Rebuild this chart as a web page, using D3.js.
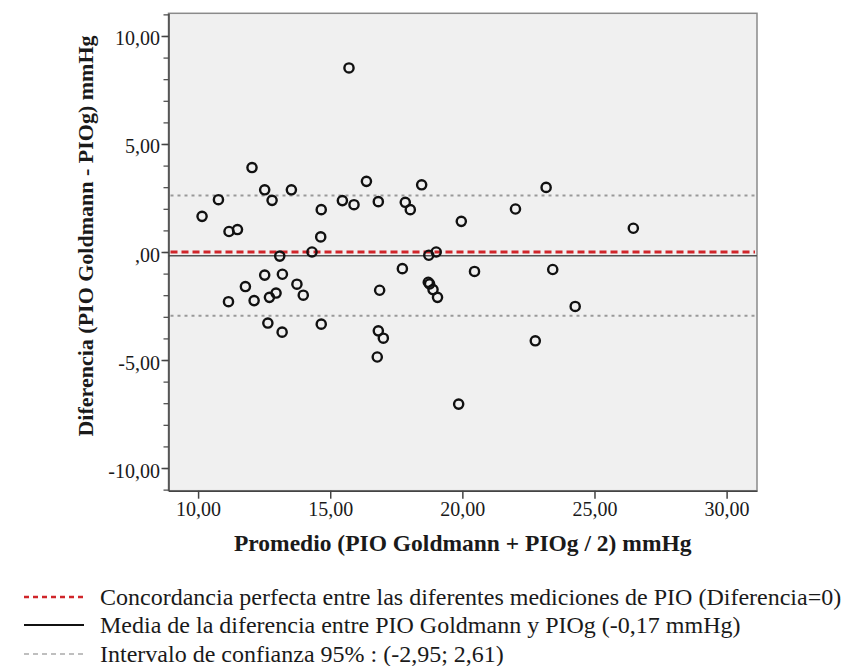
<!DOCTYPE html>
<html><head><meta charset="utf-8">
<script src="https://cdn.jsdelivr.net/npm/d3@7"></script>
<style>
html,body{margin:0;padding:0;background:#fff;}
svg{display:block;}
text{font-family:"Liberation Serif","Times New Roman",serif;fill:#1a1a1a;}
</style></head>
<body>
<svg id="chart" width="846" height="666"></svg>
<script>
// ---- data ----
const promedio = [15.71,12.04,12.52,12.80,13.53,10.77,10.15,11.17,11.49,14.66,14.64,14.31,15.46,15.90,16.37,16.82,17.84,18.03,18.46,19.96,19.01,18.73,23.17,22.01,26.47,
  13.09,12.52,13.19,11.79,11.15,12.12,12.70,12.95,13.74,13.98,12.64,13.18,14.66,17.73,16.87,16.82,17.01,16.78,18.71,18.76,18.89,19.06,19.86,20.46,23.42,24.27,22.76];
const diferencia = [8.52,3.91,2.88,2.39,2.88,2.42,1.65,0.95,1.04,1.96,0.70,0.00,2.38,2.19,3.27,2.33,2.30,1.96,3.11,1.42,0.00,-0.15,2.99,1.99,1.10,
  -0.19,-1.07,-1.03,-1.60,-2.30,-2.25,-2.10,-1.90,-1.49,-2.00,-3.29,-3.71,-3.34,-0.77,-1.77,-3.65,-3.99,-4.86,-1.40,-1.48,-1.74,-2.10,-7.04,-0.90,-0.81,-2.52,-4.11];
const xTicks = [10,15,20,25,30];
const xTickLabels = ["10,00","15,00","20,00","25,00","30,00"];
const yTicks = [-10,-5,0,5,10];
const yTickLabels = ["-10,00","-5,00",",00","5,00","10,00"];
const meanDiff = -0.17;
const limits = [-2.95, 2.61];
const perfect = 0;
const xTitle = "Promedio (PIO Goldmann + PIOg / 2) mmHg";
const yTitle = "Diferencia (PIO Goldmann - PIOg) mmHg";
const legendLabels = [
  "Concordancia perfecta entre las diferentes mediciones de PIO (Diferencia=0)",
  "Media de la diferencia entre PIO Goldmann y PIOg (-0,17 mmHg)",
  "Intervalo de confianza 95% : (-2,95; 2,61)"
];

// ---- layout ----
const L = 168.5, R = 757, T = 13.3, B = 490.7;
const svg = d3.select("#chart");
const x = d3.scaleLinear().domain([8.88, 31.15]).range([L, R]);
const y = d3.scaleLinear().domain([-11.05, 11.05]).range([B, T]);

svg.append("rect").attr("x", L).attr("y", T).attr("width", R - L).attr("height", B - T)
  .attr("fill", "#f0f0f0").attr("stroke", "#8a8a8a").attr("stroke-width", 1.5);

// reference lines
const ref = svg.append("g");
ref.selectAll("line.lim").data(limits).join("line").attr("class", "lim")
  .attr("x1", L + 2).attr("x2", R - 2).attr("y1", d => y(d)).attr("y2", d => y(d))
  .attr("stroke", "#999").attr("stroke-width", 2).attr("stroke-dasharray", "3,4");
ref.append("line").attr("x1", L).attr("x2", R).attr("y1", y(meanDiff)).attr("y2", y(meanDiff))
  .attr("stroke", "#555").attr("stroke-width", 1.5);
ref.append("line").attr("x1", L + 2).attr("x2", R - 2).attr("y1", y(perfect)).attr("y2", y(perfect))
  .attr("stroke", "#d0252a").attr("stroke-width", 3.2).attr("stroke-dasharray", "7,4");

// points
svg.append("g").selectAll("circle").data(promedio).join("circle")
  .attr("cx", d => x(d)).attr("cy", (d, i) => y(diferencia[i])).attr("r", 4.6)
  .attr("fill", "none").attr("stroke", "#111").attr("stroke-width", 2.4);

// axes
const yMinor = d3.range(-11, 12, 1);
svg.append("g").attr("transform", `translate(${L},0)`)
  .call(d3.axisLeft(y).tickValues(yMinor).tickSize(5).tickFormat(""))
  .call(g => g.select(".domain").remove())
  .selectAll("line").attr("stroke", "#444").attr("stroke-width", 1.2);
const yAx = svg.append("g").attr("transform", `translate(${L},0)`)
  .call(d3.axisLeft(y).tickValues(yTicks).tickSize(7).tickSizeOuter(0)
    .tickFormat((d, i) => yTickLabels[i]));
yAx.select(".domain").attr("stroke", "#444").attr("stroke-width", 1.5);
yAx.selectAll("line").attr("stroke", "#444").attr("stroke-width", 1.5);
yAx.selectAll("text").attr("font-size", 20).attr("dy", "0.45em").attr("x", -8.5)
  .attr("fill", "#1a1a1a");

const xAx = svg.append("g").attr("transform", `translate(0,${B})`)
  .call(d3.axisBottom(x).tickValues(xTicks).tickSize(8).tickSizeOuter(0)
    .tickFormat((d, i) => xTickLabels[i]));
xAx.select(".domain").attr("stroke", "#444").attr("stroke-width", 1.5);
xAx.selectAll("line").attr("stroke", "#444").attr("stroke-width", 1.5);
xAx.selectAll("text").attr("font-size", 20).attr("y", 11).attr("dy", "0.71em")
  .attr("fill", "#1a1a1a");

// titles
svg.append("text").attr("x", (L + R) / 2).attr("y", 551).attr("text-anchor", "middle")
  .attr("font-size", 23.5).attr("font-weight", "bold").text(xTitle);
svg.append("text").attr("transform", "translate(93,236) rotate(-90)").attr("text-anchor", "middle")
  .attr("font-size", 22).attr("font-weight", "bold").text(yTitle);

// legend
const legY = [597, 625, 654];
const legStyles = [
  {stroke: "#d0252a", dash: "5,4", w: 2.5},
  {stroke: "#111", dash: null, w: 2.2},
  {stroke: "#aaa", dash: "5,4", w: 1.5}
];
const leg = svg.append("g");
legendLabels.forEach((lab, i) => {
  leg.append("line").attr("x1", 24).attr("x2", 84).attr("y1", legY[i]).attr("y2", legY[i])
    .attr("stroke", legStyles[i].stroke).attr("stroke-width", legStyles[i].w)
    .attr("stroke-dasharray", legStyles[i].dash);
  leg.append("text").attr("x", 100).attr("y", legY[i]).attr("dy", "0.35em")
    .attr("font-size", 24).text(lab);
});
</script>
</body></html>
